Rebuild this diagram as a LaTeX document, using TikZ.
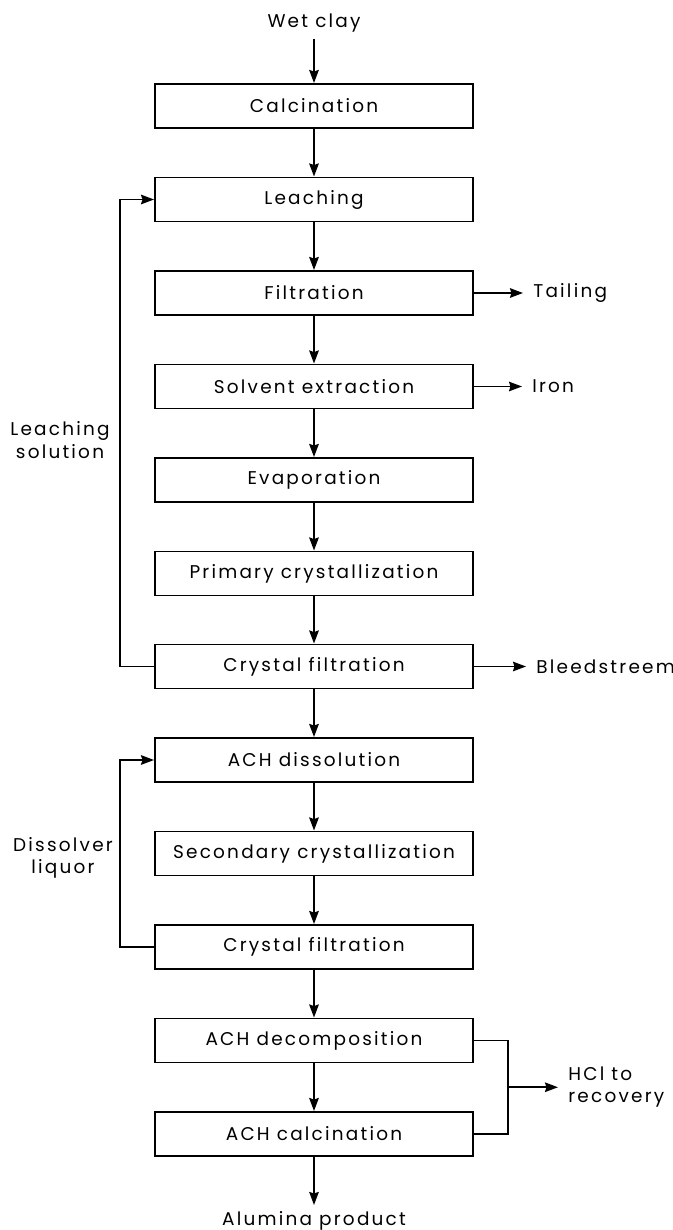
\documentclass[tikz,border=0pt]{standalone}
\usepackage{fontspec}
\setmainfont{Poppins}[LetterSpace=12]
\usetikzlibrary{arrows.meta, positioning}

\begin{document}
\begin{tikzpicture}[
  every node/.style={font=\fontsize{10.5}{12.6}\selectfont},
  proc/.style={draw, line width=1.1pt, minimum width=6.36cm, minimum height=0.88cm, inner sep=0pt},
  flow/.style={line width=1.1pt, -{Stealth[length=2.6mm, width=1.9mm, inset=0.3mm]}},
  link/.style={line width=1.1pt},
  side/.style={align=center},
  outlbl/.style={anchor=west, inner xsep=0.2cm, align=left}
]
\useasboundingbox (0,0) rectangle (13.46,-24.6);

% Feed and main steps
\node[anchor=base] (wet) at (6.28,-0.56) {Wet clay};
\node[proc] (calc)   at (6.28,-2.12)  {Calcination};
\node[proc] (leach)  at (6.28,-3.99)  {Leaching};
\node[proc] (filt)   at (6.28,-5.86)  {Filtration};
\node[proc] (solv)   at (6.28,-7.73)  {Solvent extraction};
\node[proc] (evap)   at (6.28,-9.60)  {Evaporation};
\node[proc] (prim)   at (6.28,-11.47) {Primary crystallization};
\node[proc] (cfilt)  at (6.28,-13.33) {Crystal filtration};
\node[proc] (dissol) at (6.28,-15.20) {ACH dissolution};
\node[proc] (second) at (6.28,-17.07) {Secondary crystallization};
\node[proc] (cfiltb) at (6.28,-18.94) {Crystal filtration};
\node[proc] (decomp) at (6.28,-20.81) {ACH decomposition};
\node[proc] (acalc)  at (6.28,-22.68) {ACH calcination};
\node[anchor=north] (alum) at (6.28,-24.1) {Alumina product};

% Side streams
\node[outlbl] (tail)  at (10.46,-5.86)  {Tailing};
\node[outlbl] (iron)  at (10.44,-7.73)  {Iron};
\node[outlbl] (bleed) at (10.52,-13.33) {Bleedstreem};
\node[outlbl] (hcl)   at (11.16,-21.745) {HCl to\\recovery};
\coordinate (hcljoin) at (10.16,-21.745);

% Recycle labels
\node[side] (leachsol) at (1.2,-8.8)  {Leaching\\solution};
\node[side] (dissliq)  at (1.26,-17.16) {Dissolver\\liquor};

% Main line
\draw[flow] (wet) -- (calc);
\draw[flow] (calc) -- (leach);
\draw[flow] (leach) -- (filt);
\draw[flow] (filt) -- (solv);
\draw[flow] (solv) -- (evap);
\draw[flow] (evap) -- (prim);
\draw[flow] (prim) -- (cfilt);
\draw[flow] (cfilt) -- (dissol);
\draw[flow] (dissol) -- (second);
\draw[flow] (second) -- (cfiltb);
\draw[flow] (cfiltb) -- (decomp);
\draw[flow] (decomp) -- (acalc);
\draw[flow] (acalc) -- (alum);

% Outputs
\draw[flow] (filt.east) -- (tail.west);
\draw[flow] (solv.east) -- (iron.west);
\draw[flow] (cfilt.east) -- (bleed.west);
\draw[link] (decomp.east) -| (hcljoin);
\draw[link] (acalc.east) -| (hcljoin);
\draw[flow] (hcljoin) -- (hcl.west);

% Recycles
\draw[flow] (cfilt.west) -- ++(-0.68,0) |- (leach.west);
\draw[flow] (cfiltb.west) -- ++(-0.68,0) |- (dissol.west);

\end{tikzpicture}
\end{document}
